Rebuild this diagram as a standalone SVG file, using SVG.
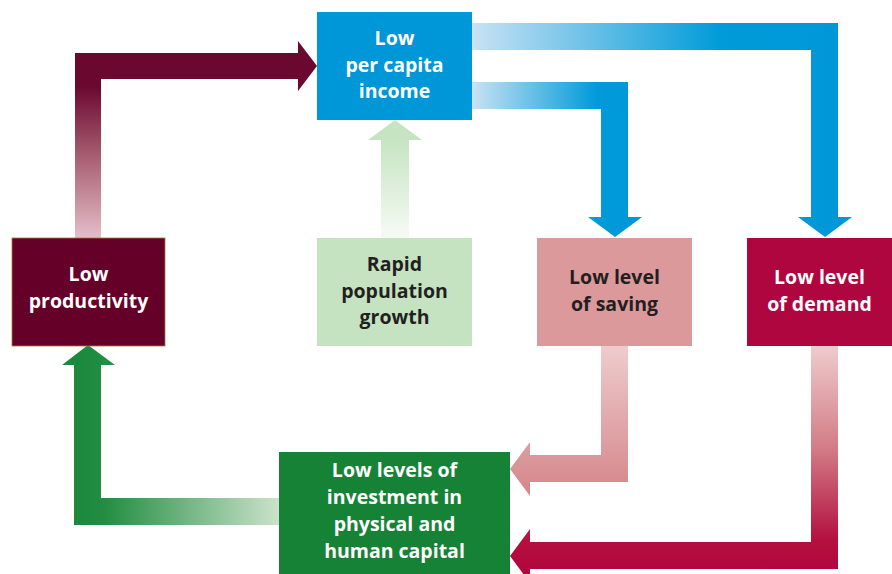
<svg xmlns="http://www.w3.org/2000/svg" width="892" height="574" viewBox="0 0 892 574">
<defs>
<linearGradient id="gMaroon" gradientUnits="userSpaceOnUse" x1="0" y1="238" x2="0" y2="53">
<stop offset="0" stop-color="#e4bec8"/>
<stop offset="0.45" stop-color="#a65c70"/>
<stop offset="0.82" stop-color="#6b0830"/>
<stop offset="1" stop-color="#6b0830"/>
</linearGradient>
<linearGradient id="gBlue1" gradientUnits="userSpaceOnUse" x1="472" y1="0" x2="838" y2="0">
<stop offset="0" stop-color="#c9e2f4"/>
<stop offset="0.68" stop-color="#009bd9"/>
<stop offset="1" stop-color="#0097d8"/>
</linearGradient>
<linearGradient id="gBlue2" gradientUnits="userSpaceOnUse" x1="472" y1="0" x2="628" y2="0">
<stop offset="0" stop-color="#c9e2f4"/>
<stop offset="0.8" stop-color="#009bd9"/>
<stop offset="1" stop-color="#0097d8"/>
</linearGradient>
<linearGradient id="gLightGreen" gradientUnits="userSpaceOnUse" x1="0" y1="238" x2="0" y2="140">
<stop offset="0" stop-color="#f6fbf5"/>
<stop offset="1" stop-color="#c6e4c2"/>
</linearGradient>
<linearGradient id="gSaving" gradientUnits="userSpaceOnUse" x1="0" y1="346" x2="0" y2="496">
<stop offset="0" stop-color="#eecccc"/>
<stop offset="1" stop-color="#d4858a"/>
</linearGradient>
<linearGradient id="gDemand" gradientUnits="userSpaceOnUse" x1="0" y1="346" x2="0" y2="574">
<stop offset="0" stop-color="#efcccc"/>
<stop offset="0.45" stop-color="#d27c86"/>
<stop offset="0.85" stop-color="#b4103f"/>
<stop offset="1" stop-color="#b0063e"/>
</linearGradient>
<linearGradient id="gGreen" gradientUnits="userSpaceOnUse" x1="279" y1="0" x2="74" y2="0">
<stop offset="0" stop-color="#cae3ca"/>
<stop offset="0.85" stop-color="#238d42"/>
<stop offset="1" stop-color="#1b883c"/>
</linearGradient>
</defs>
<style>
.lbl { font-family: "Open Sans", "Liberation Sans", sans-serif; font-weight: 700; font-size: 19.5px; text-anchor: middle; }
.light { fill: #ffffff; }
.dark { fill: #231f20; }
</style>
<g id="connectors">
<polygon fill="url(#gMaroon)" points="75,238 75,53 298,53 298,41 317,66 298,91 298,79 101,79 101,238"/>
<polygon fill="url(#gLightGreen)" points="381,238 381,140 368,140 395,120 422,140 409,140 409,238"/>
<polygon fill="url(#gBlue1)" points="472,23 838,23 838,217 852,217 825,237 798,217 811,217 811,50 472,50"/>
<polygon fill="url(#gBlue2)" points="472,82 628,82 628,217 642,217 615,237 588,217 601,217 601,109 472,109"/>
<polygon fill="url(#gSaving)" points="601,346 628,346 628,482 530,482 530,496 510,469 530,442 530,455 601,455"/>
<polygon fill="url(#gDemand)" points="811,346 838,346 838,569 530,569 530,583 510,556 530,529 530,542 811,542"/>
<polygon fill="url(#gGreen)" points="279,498 279,525 74,525 74,365 62,365 88,345 115,365 101,365 101,498"/>
</g>
<g id="node-income">
<rect x="317" y="12" width="155" height="108" fill="#0097d8"/>
<text class="lbl light" x="394.5" y="45">Low</text>
<text class="lbl light" x="394.5" y="72">per capita</text>
<text class="lbl light" x="394.5" y="98">income</text>
</g>
<g id="node-productivity">
<rect x="12" y="238" width="153" height="108" fill="#650029" stroke="#a8773f" stroke-width="0.8"/>
<text class="lbl light" x="88.5" y="281">Low</text>
<text class="lbl light" x="88.5" y="308">productivity</text>
</g>
<g id="node-population">
<rect x="317" y="238" width="155" height="108" fill="#c5e3c1"/>
<text class="lbl dark" x="394.5" y="271">Rapid</text>
<text class="lbl dark" x="394.5" y="298">population</text>
<text class="lbl dark" x="394.5" y="324">growth</text>
</g>
<g id="node-saving">
<rect x="537" y="238" width="155" height="108" fill="#dc999b"/>
<text class="lbl dark" x="614.5" y="284">Low level</text>
<text class="lbl dark" x="614.5" y="311">of saving</text>
</g>
<g id="node-demand">
<rect x="747" y="238" width="145" height="108" fill="#b0063f"/>
<text class="lbl light" x="819.5" y="284">Low level</text>
<text class="lbl light" x="819.5" y="311">of demand</text>
</g>
<g id="node-investment">
<rect x="279" y="452" width="231" height="122" fill="#168236"/>
<text class="lbl light" x="394.5" y="477">Low levels of</text>
<text class="lbl light" x="394.5" y="504">investment in</text>
<text class="lbl light" x="394.5" y="531">physical and</text>
<text class="lbl light" x="394.5" y="558">human capital</text>
</g>
</svg>
